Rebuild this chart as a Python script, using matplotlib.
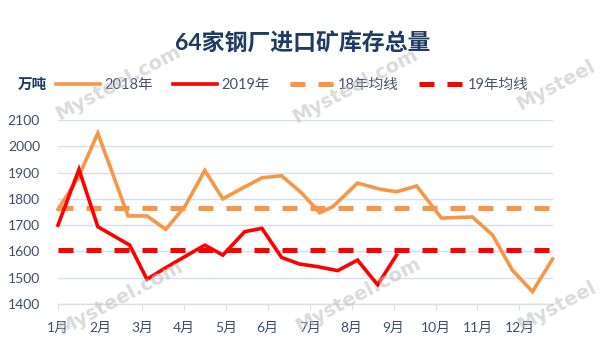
import numpy as np
import matplotlib
matplotlib.use('Agg')
import matplotlib.pyplot as plt

plt.rcParams['font.family'] = ['Lato', 'Noto Sans CJK SC', 'DejaVu Sans']

# x positions in month units (1.0 = start of Jan)
x18 = [1.00, 1.48, 1.95, 2.67, 3.12, 3.57, 4.02, 4.50, 4.93, 5.40, 5.86, 6.33, 6.81,
       7.24, 7.55, 8.14, 8.67, 9.07, 9.55, 10.14, 10.88, 11.36, 11.83, 12.31, 12.79]
y18 = [1760, 1880, 2050, 1735, 1735, 1684, 1770, 1908, 1800, 1841, 1880, 1888, 1822,
       1747, 1770, 1860, 1837, 1827, 1849, 1727, 1731, 1662, 1529, 1447, 1571]

x19 = [1.00, 1.50, 1.95, 2.71, 3.12, 3.57, 4.02, 4.50, 4.93, 5.45, 5.86, 6.33, 6.76,
       7.19, 7.67, 8.14, 8.62, 9.07]
y19 = [1700, 1912, 1694, 1624, 1494, 1538, 1580, 1624, 1586, 1675, 1688, 1577, 1552,
       1542, 1527, 1567, 1473, 1586]

avg18 = 1766
avg19 = 1605

months = [1, 2, 3, 4, 5, 6, 7, 8, 9, 10, 11, 12]
month_labels = ['%d月' % m for m in months]
yticks = [1400, 1500, 1600, 1700, 1800, 1900, 2000, 2100]

c18 = '#F79646'
c19 = '#FF0000'
tick_col = '#3d4f6b'
title_col = '#1f3b63'
grid_col = '#d6e0ef'

W, H = 607, 351
fig = plt.figure(figsize=(W/100, H/100), dpi=100)
ax = fig.add_axes([58/W, 1-304/H, 495/W, 184/H])

ax.plot(x18, y18, color=c18, lw=2.6, solid_joinstyle='miter', clip_on=False, zorder=3, label='2018年')
ax.plot(x19, y19, color=c19, lw=2.6, solid_joinstyle='miter', clip_on=False, zorder=4, label='2019年')
ax.plot([x18[0], x18[-1]], [avg18, avg18], color=c18, lw=3.6, dashes=(3, 2.6),
        clip_on=False, zorder=2, label='18年均线')
ax.plot([x18[0], x18[-1]], [avg19, avg19], color=c19, lw=3.6, dashes=(3, 2.6),
        clip_on=False, zorder=2, label='19年均线')

ax.set_xlim(1.0, 12.8)
ax.set_ylim(1400, 2100)
ax.set_yticks(yticks)
ax.set_xticks(months)
ax.set_xticklabels(month_labels)
ax.grid(axis='y', color=grid_col, lw=1.0)
ax.set_axisbelow(True)
for s in ['top', 'right', 'left']:
    ax.spines[s].set_visible(False)
ax.spines['bottom'].set_color(grid_col)
ax.spines['bottom'].set_linewidth(1.0)
ax.tick_params(axis='y', length=0, pad=13, labelsize=10, labelcolor=tick_col)
ax.tick_params(axis='x', length=4, color=grid_col, pad=9, labelsize=10, labelcolor=tick_col)

fig.text(303/W, 1-43/H, '64家钢厂进口矿库存总量', ha='center', va='center',
         fontsize=16.5, fontweight='bold', color=title_col)
fig.text(18/W, 1-85/H, '万吨', ha='left', va='center', fontsize=10.5,
         fontweight='bold', color=title_col)

fig.legend(loc='center left', bbox_to_anchor=(50/W, 1-85/H), ncol=4, frameon=False,
           handlelength=3.0, handletextpad=0.3, columnspacing=1.4, fontsize=10.5,
           labelcolor='#44546a', borderaxespad=0)

# watermarks
marks = [(118, 83, 'Mysteel.com'), (355, 86, 'Mysteel.com'), (556, 85, 'Mysteel'),
         (120, 298, 'Mysteel.com'), (358, 295, 'Mysteel.com'), (557, 306, 'Mysteel')]
for wx, wy, wt in marks:
    fig.text(wx/W, 1-wy/H, wt, ha='center', va='center', rotation=28,
             fontsize=14, fontweight='bold', family='DejaVu Sans', color='#bdbdbd',
             alpha=0.55, zorder=10)

fig.savefig('out.png', dpi=100)
